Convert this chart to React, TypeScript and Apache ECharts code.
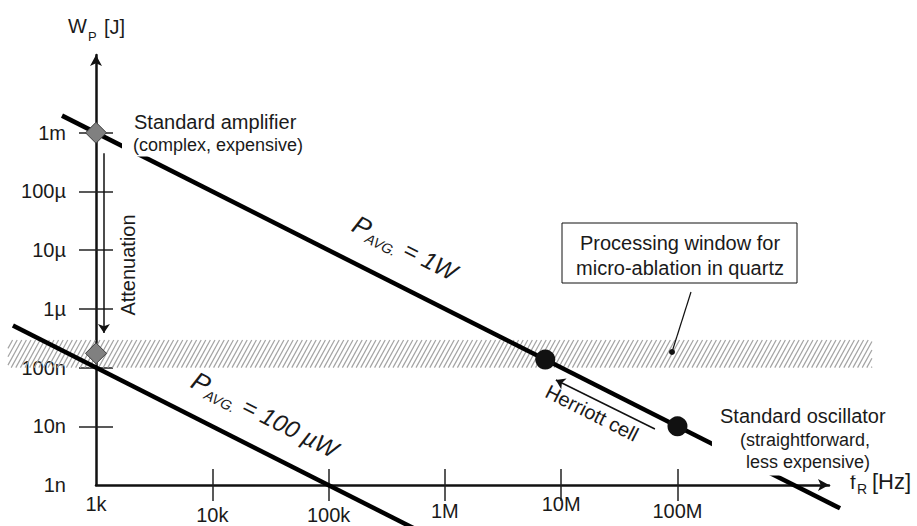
import React, { useEffect, useRef } from 'react';
import * as echarts from 'echarts';

// ---- tick definitions ----
const xTickValues = [1e3, 1e4, 1e5, 1e6, 1e7, 1e8];
const xTickLabels = ['1k', '10k', '100k', '1M', '10M', '100M'];
const xLabelLevels = ['hi', 'lo', 'lo', 'mid', 'hi', 'mid'];
const yTickValues = [1e-9, 1e-8, 1e-7, 1e-6, 1e-5, 1e-4, 1e-3];
const yTickLabels = ['1n', '10n', '100n', '1µ', '10µ', '100µ', '1m'];

// ---- data (frequency f_R [Hz], pulse energy W_P [J]) ----
const line1W_f = [510, 2.5e9];
const line1W_W = [1.96e-3, 4e-10];
const line100uW_f = [193, 5.5e5];
const line100uW_W = [5.2e-7, 1.8e-10];

const amplifier_f = [1e3, 1e3];
const amplifier_W = [1e-3, 1.75e-7];
const oscillator_f = [7.3e6, 1e8];
const oscillator_W = [1.37e-7, 1e-8];

const windowBand_f = [175, 4.7e9];
const windowBand_W = [1e-7, 2.95e-7];

const attenuation_f = [1170, 1170];
const attenuation_W = [4.5e-4, 3.9e-7];
const herriott_f = [6.4e7, 9.0e6];
const herriott_W = [9.0e-9, 6.15e-8];

// ---- axis extents ----
const X_MIN = 1e3;
const X_MAX = Math.pow(10, 9.303);
const Y_MIN = 1e-9;
const Y_MAX = Math.pow(10, -1.675);

const FONT = '"Liberation Sans", Arial, Helvetica, sans-serif';
const INK = '#1a1a1a';
const ANGLE = -Math.atan(58.7 / 116.3);

const idxOf = (vals: number[], v: number) =>
  vals.findIndex((t) => Math.abs(Math.log10(t) - Math.log10(v)) < 1e-6);

const pairs = (a: number[], b: number[]) => a.map((v, i) => [v, b[i]]);

function txt(x: number, y: number, text: string, size: number, extra: any = {}, el: any = {}) {
  return {
    type: 'text',
    x,
    y,
    z: 100,
    ...el,
    style: {
      text,
      x: 0,
      y: 0,
      fill: INK,
      fontSize: size,
      fontFamily: FONT,
      textAlign: 'left',
      align: 'left',
      textVerticalAlign: 'middle',
      verticalAlign: 'middle',
      ...extra,
    },
  };
}

function buildOption(): any {
  const tickStyle = { color: '#222', width: 1.5 };
  const axisLineStyle = { color: '#111', width: 2.5 };
  const rich = {
    hi: { fontSize: 20, fontFamily: FONT, color: INK, padding: [0, 0, 0, 0] },
    mid: { fontSize: 20, fontFamily: FONT, color: INK, padding: [7, 0, 0, 0] },
    lo: { fontSize: 20, fontFamily: FONT, color: INK, padding: [11, 0, 0, 0] },
  };
  const pRich = (big: number) => ({
    p: { fontSize: big + 2, fontStyle: 'italic', fontFamily: FONT, fill: INK, lineHeight: 30 },
    s: { fontSize: 14, fontStyle: 'italic', fontFamily: FONT, fill: INK, lineHeight: 8, verticalAlign: 'bottom' },
    e: { fontSize: big, fontStyle: 'italic', fontFamily: FONT, fill: INK, lineHeight: 30 },
  });

  return {
    animation: false,
    backgroundColor: '#ffffff',
    textStyle: { fontFamily: FONT },
    grid: { left: 96, right: 88, top: 55, bottom: 41, containLabel: false, outerBoundsMode: 'none' },
    xAxis: [
      {
        type: 'log',
        logBase: 10,
        min: X_MIN,
        max: X_MAX,
        position: 'bottom',
        axisLine: { show: true, onZero: false, symbol: ['none', 'arrow'], symbolSize: [9, 11], lineStyle: axisLineStyle },
        axisTick: { show: true, inside: false, length: 16, lineStyle: tickStyle, customValues: xTickValues.slice(1) },
        axisLabel: {
          show: true,
          margin: 9,
          customValues: xTickValues,
          formatter: (v: number) => {
            const i = idxOf(xTickValues, v);
            return i < 0 ? '' : `{${xLabelLevels[i]}|${xTickLabels[i]}}`;
          },
          rich,
        },
        splitLine: { show: false },
        minorTick: { show: false },
      },
      {
        type: 'log',
        logBase: 10,
        min: X_MIN,
        max: X_MAX,
        position: 'bottom',
        axisLine: { show: false, onZero: false },
        axisTick: { show: true, inside: true, length: 16, lineStyle: tickStyle, customValues: xTickValues.slice(1) },
        axisLabel: { show: false },
        splitLine: { show: false },
      },
    ],
    yAxis: [
      {
        type: 'log',
        logBase: 10,
        min: Y_MIN,
        max: Y_MAX,
        position: 'left',
        axisLine: { show: true, onZero: false, symbol: ['none', 'arrow'], symbolSize: [9, 11], lineStyle: axisLineStyle },
        axisTick: { show: true, inside: false, length: 17, lineStyle: tickStyle, customValues: yTickValues.slice(1) },
        axisLabel: {
          show: true,
          margin: 30,
          fontSize: 20,
          color: INK,
          fontFamily: FONT,
          customValues: yTickValues,
          formatter: (v: number) => {
            const i = idxOf(yTickValues, v);
            return i < 0 ? '' : yTickLabels[i];
          },
        },
        splitLine: { show: false },
      },
      {
        type: 'log',
        logBase: 10,
        min: Y_MIN,
        max: Y_MAX,
        position: 'left',
        axisLine: { show: false, onZero: false },
        axisTick: { show: true, inside: true, length: 17, lineStyle: tickStyle, customValues: yTickValues.slice(1) },
        axisLabel: { show: false },
        splitLine: { show: false },
      },
    ],
    series: [
      {
        name: 'processing window',
        type: 'custom',
        coordinateSystem: 'cartesian2d',
        clip: false,
        silent: true,
        z: 1,
        data: [[windowBand_f[0], windowBand_f[1], windowBand_W[0], windowBand_W[1]]],
        renderItem: (_params: any, api: any) => {
          const p0 = api.coord([api.value(0), api.value(3)]);
          const p1 = api.coord([api.value(1), api.value(2)]);
          const x0 = p0[0], y0 = p0[1], x1 = p1[0], y1 = p1[1];
          const h = y1 - y0;
          const dx = h * 0.55;
          const step = 4.6;
          const children: any[] = [];
          for (let xb = x0 - dx; xb < x1; xb += step) {
            let ax = xb, ay = y1, bx = xb + dx, by = y0;
            if (ax < x0) { const t = (x0 - ax) / dx; ax = x0; ay = y1 - t * h; }
            if (bx > x1) { const t = (bx - x1) / dx; bx = x1; by = y0 + t * h; }
            if (bx <= ax) continue;
            children.push({
              type: 'line',
              shape: { x1: ax, y1: ay, x2: bx, y2: by },
              style: { stroke: '#a3a3a3', lineWidth: 1.2 },
            });
          }
          return { type: 'group', children };
        },
      },
      {
        name: 'P_AVG lines',
        type: 'custom',
        coordinateSystem: 'cartesian2d',
        clip: false,
        silent: true,
        z: 3,
        data: [
          [line1W_f[0], line1W_W[0], line1W_f[1], line1W_W[1]],
          [line100uW_f[0], line100uW_W[0], line100uW_f[1], line100uW_W[1]],
        ],
        renderItem: (_params: any, api: any) => {
          const a = api.coord([api.value(0), api.value(1)]);
          const b = api.coord([api.value(2), api.value(3)]);
          return {
            type: 'line',
            shape: { x1: a[0], y1: a[1], x2: b[0], y2: b[1] },
            style: { stroke: '#000', lineWidth: 4.5 },
          };
        },
      },
      {
        name: 'amplifier',
        type: 'scatter',
        data: pairs(amplifier_f, amplifier_W),
        symbol: 'diamond',
        symbolSize: [21, 21],
        clip: false,
        silent: true,
        z: 6,
        itemStyle: { color: '#808080', borderColor: '#3c3c3c', borderWidth: 1, opacity: 1 },
        markLine: {
          silent: true,
          symbol: ['none', 'arrow'],
          symbolSize: 9,
          label: { show: false },
          lineStyle: { color: '#111', width: 1.5, type: 'solid' },
          data: [
            [{ coord: [attenuation_f[0], attenuation_W[0]] }, { coord: [attenuation_f[1], attenuation_W[1]] }],
            [{ coord: [herriott_f[0], herriott_W[0]] }, { coord: [herriott_f[1], herriott_W[1]] }],
          ],
        },
      },
      {
        name: 'oscillator',
        type: 'scatter',
        data: pairs(oscillator_f, oscillator_W),
        symbol: 'circle',
        symbolSize: 20,
        clip: false,
        silent: true,
        z: 6,
        itemStyle: { color: '#111', opacity: 1 },
      },
    ],
    graphic: [
      // axis titles
      txt(68, 26, 'W', 20),
      txt(88, 36, 'P', 13),
      txt(104, 27, '[J]', 20),
      txt(850, 482, 'f', 20),
      txt(857, 489, 'R', 14),
      txt(872, 481, '[Hz]', 22),
      // annotations
      txt(134, 122, 'Standard amplifier', 20),
      txt(122, 145, '(complex, expensive)', 18, { backgroundColor: '#fff', padding: [2, 4, 3, 11] }),
      txt(720, 416, 'Standard oscillator', 20),
      txt(872, 451, '(straightforward,\nless expensive)', 18, {
        textAlign: 'right',
        align: 'right',
        lineHeight: 22,
        backgroundColor: '#fff',
        padding: [3, 2, 2, 28],
      }),
      txt(128, 265, 'Attenuation', 20, { textAlign: 'center', align: 'center' }, { rotation: Math.PI / 2 }),
      txt(592, 413, 'Herriott cell', 20, { textAlign: 'center', align: 'center' }, { rotation: ANGLE }),
      txt(405, 248, '{p|P}{s|AVG.}{e| = 1W}', 24, { textAlign: 'center', align: 'center', rich: pRich(24) }, { rotation: ANGLE }),
      txt(265, 415, '{p|P}{s|AVG.}{e| = 100 µW}', 24, { textAlign: 'center', align: 'center', rich: pRich(24) }, { rotation: ANGLE }),
      // processing window box
      {
        type: 'rect',
        z: 90,
        shape: { x: 562, y: 223, width: 235, height: 60 },
        style: { fill: '#fff', stroke: '#111', lineWidth: 1 },
      },
      txt(680, 255, 'Processing window for\nmicro-ablation in quartz', 20, {
        textAlign: 'center',
        align: 'center',
        lineHeight: 25,
      }),
      {
        type: 'line',
        z: 90,
        shape: { x1: 691, y1: 292, x2: 672, y2: 352 },
        style: { stroke: '#111', lineWidth: 1.2 },
      },
      {
        type: 'circle',
        z: 90,
        shape: { cx: 672, cy: 352, r: 3 },
        style: { fill: '#111' },
      },
    ],
  };
}

export default function App() {
  const ref = useRef<HTMLDivElement>(null);
  useEffect(() => {
    if (!ref.current) return;
    const chart = echarts.init(ref.current, null, { renderer: 'svg' });
    chart.setOption(buildOption());
    return () => chart.dispose();
  }, []);
  return (
    <div
      ref={ref}
      style={{ position: 'fixed', left: 0, top: 0, width: 917, height: 526, background: '#fff' }}
    />
  );
}
